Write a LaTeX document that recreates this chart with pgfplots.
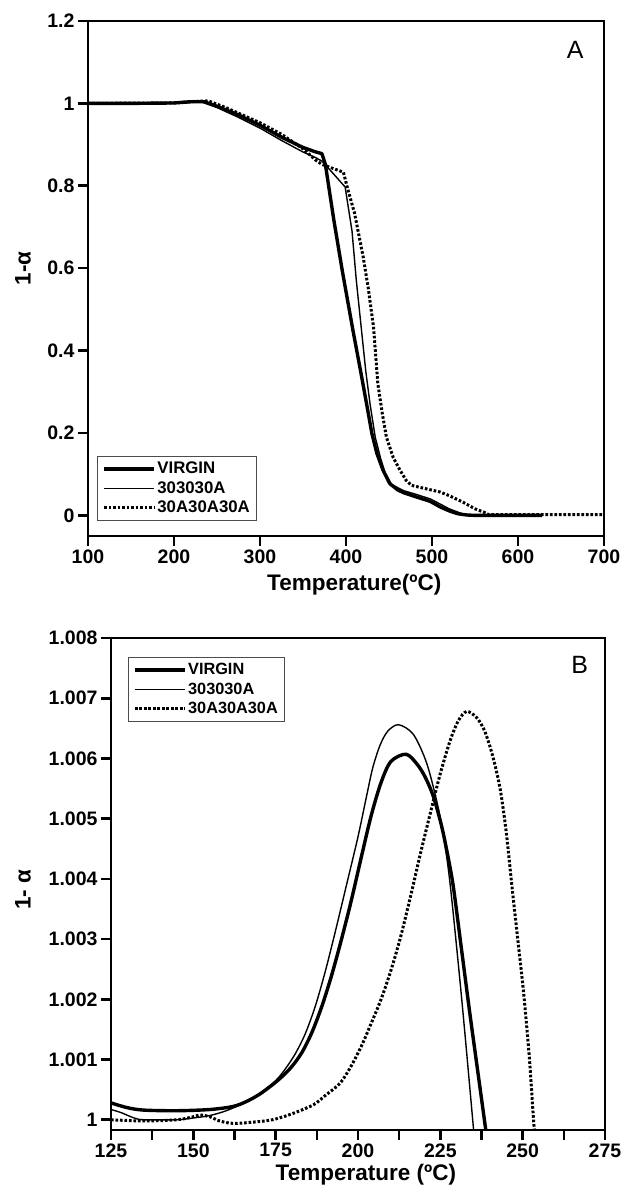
\documentclass[border=0pt]{standalone}
\usepackage{pgfplots}
\pgfplotsset{compat=1.18}
\usepackage{fontspec}
\setmainfont{Liberation Sans}
\pgfplotsset{
  myax/.style={
    scale only axis,
    axis line style={line width=2.6pt},
    every tick/.style={line width=2.6pt,black},
    major tick length=10pt, minor tick length=10pt,
    tick align=outside, xtick pos=bottom, ytick pos=left,
    tick label style={font=\fontsize{19.5}{20}\selectfont\bfseries},
    /pgf/number format/assume math mode=true,
    label style={font=\fontsize{22.5}{23}\selectfont\bfseries},
    legend cell align=left,
    legend image code/.code={\draw[##1] (0pt,0pt) -- (50pt,0pt);},
    legend style={draw=black!70, line width=0.9pt, inner xsep=5pt, inner ysep=3pt,
      nodes={inner sep=1.5pt, text height=12.5pt, text depth=3pt},
      row sep=1pt},
  },
  virgin/.style={black, line width=3.4pt, line join=round},
  thin/.style={black, line width=1.4pt, line join=round},
  dots/.style={black, line width=3pt, dash pattern=on 2.6pt off 1.9pt},
}
\begin{document}
\begin{tikzpicture}
\path (0pt,0pt) rectangle (622pt,1193pt);
% ---------------- Panel A ----------------
\begin{axis}[myax,
  at={(88pt,657pt)}, anchor=south west, width=516pt, height=515pt,
  xmin=100, xmax=700, ymin=-0.05, ymax=1.2,
  xtick={100,200,300,400,500,600,700},
  ytick={0,0.2,0.4,0.6,0.8,1,1.2},
  yticklabels={0,0.2,0.4,0.6,0.8,1,1.2},
  xlabel={Temperature(ºC)}, ylabel={1-α},
  x label style={at={(axis description cs:0.516,-0.095)},anchor=center},
  y label style={at={(axis description cs:-0.126,0.52)},anchor=center},
  legend style={at={(axis description cs:0.0175,0.03)},anchor=south west,
    font=\fontsize{16.8}{17}\selectfont\bfseries},
]
\addplot[virgin] coordinates {
(100,1) (150,1) (200,1.001) (220,1.004) (235,1.004) (250,0.993) (275,0.972)
(300,0.947) (325,0.918) (350,0.893) (365,0.882) (372,0.878) (376,0.852)
(386,0.715) (396,0.59) (408,0.45) (417,0.35) (424,0.27) (430,0.20) (436,0.15)
(443,0.11) (451,0.077) (460,0.062) (467,0.055) (480,0.046) (498,0.034)
(510,0.02) (520,0.011) (530,0.004) (540,0.001) (550,0) (628,0)};
\addlegendentry{VIRGIN}
\addplot[thin] coordinates {
(100,1) (200,1.001) (230,1.005) (250,0.99) (275,0.966) (300,0.94) (325,0.91)
(350,0.882) (365,0.868) (372,0.86) (385,0.83) (399,0.797) (407,0.69)
(412,0.57) (418,0.45) (423,0.35) (428,0.27) (434,0.19) (440,0.14) (446,0.10)
(453,0.075) (467,0.06) (480,0.052) (498,0.04) (510,0.027) (520,0.016)
(535,0.004) (548,0) (628,0)};
\addlegendentry{303030A}
\addplot[dots] coordinates {
(100,1) (200,1.001) (225,1.005) (240,1.006) (260,0.99) (300,0.953)
(325,0.925) (350,0.89) (365,0.862) (372,0.852) (385,0.842) (397,0.833)
(401,0.80) (410,0.733) (420,0.627) (426,0.55) (432,0.457) (437,0.32)
(442,0.25) (447,0.19) (455,0.14) (463,0.109) (470,0.085) (476,0.073)
(490,0.066) (509,0.057) (520,0.048) (536,0.032) (550,0.016) (560,0.008)
(566,0.002) (700,0.002)};
\addlegendentry{30A30A30A}
\node[font=\fontsize{25}{25}\selectfont] at (rel axis cs:0.944,0.944) {A};
\end{axis}
% ---------------- Panel B ----------------
\begin{axis}[myax,
  at={(111pt,63pt)}, anchor=south west, width=494pt, height=492pt,
  xmin=125, xmax=275, ymin=0.99983, ymax=1.008,
  xtick={125,150,175,200,225,250,275},
  minor xtick={137.5,162.5,187.5,212.5,237.5,262.5},
  ytick={1,1.001,1.002,1.003,1.004,1.005,1.006,1.007,1.008},
  yticklabels={1,1.001,1.002,1.003,1.004,1.005,1.006,1.007,1.008},
  scaled y ticks=false,
  xlabel={Temperature (ºC)}, ylabel={1- α},
  x label style={at={(axis description cs:0.516,-0.091)},anchor=center},
  y label style={at={(axis description cs:-0.178,0.488)},anchor=center},
  legend style={at={(axis description cs:0.034,0.961)},anchor=north west,
    font=\fontsize{16.3}{16.5}\selectfont\bfseries},
]
\addplot[virgin, smooth, tension=0.5] coordinates {
(125,1.00028) (130,1.0002) (135,1.00016) (145,1.00015) (155,1.00017)
(162,1.00022) (166,1.0003) (170,1.00042) (174,1.00058) (177,1.00072)
(180,1.00089) (183,1.00112) (186,1.00145) (189,1.00188) (192,1.00240)
(195,1.00300) (198,1.00365) (201,1.00436) (204,1.00505) (207,1.00560)
(210,1.00595) (214.6,1.00607) (218,1.0059) (220.5,1.00568)
(223,1.00535) (225.5,1.00485) (227.5,1.00432) (229,1.00385) (231.5,1.00280)
(234,1.00175) (236.5,1.00075) (238.8,0.99983)};
\addlegendentry{VIRGIN}
\addplot[thin, smooth, tension=0.5] coordinates {
(125,1.00017) (128,1.00012) (132,1.00003) (135,1.0) (145,1.0) (150,1.00003)
(155,1.00007) (160,1.00015) (165,1.00027) (170,1.00043) (175,1.00065)
(178,1.00085) (181,1.00110) (184,1.00143) (187,1.00188) (190,1.00245)
(193,1.00310) (196.6,1.00392) (200,1.0047)
(202.7,1.00540) (204.5,1.00585) (206.7,1.00622) (209,1.00645)
(212.3,1.00656) (216.8,1.00640) (220.8,1.00593) (224,1.00527)
(226,1.00470) (228,1.00390) (231.5,1.00200) (235.1,0.99983)};
\addlegendentry{303030A}
\addplot[dots, smooth, tension=0.5] coordinates {
(125,1.0) (135,0.99998) (145,1.0) (150,1.00005) (152,1.00008) (155,1.00005)
(158,0.99998) (162,0.99994) (168,0.99996) (174,1.0) (180,1.0001)
(186.5,1.00025) (190,1.0004) (194.6,1.00061) (198,1.0009) (201,1.00122)
(204,1.0016) (207,1.00200) (210,1.00248) (213,1.00305) (216,1.00372)
(219,1.00443) (222,1.00510) (225,1.00575) (228,1.00630) (230.5,1.00663)
(233,1.00678) (236,1.00668) (238.5,1.00645) (241,1.00602) (243.2,1.00548)
(245,1.00478) (246.7,1.00390) (248.5,1.00300) (250.3,1.00210)
(252,1.00105) (253.3,1.0) (253.6,0.99983)};
\addlegendentry{30A30A30A}
\node[font=\fontsize{25}{25}\selectfont] at (rel axis cs:0.949,0.945) {B};
\end{axis}
\end{tikzpicture}
\end{document}
